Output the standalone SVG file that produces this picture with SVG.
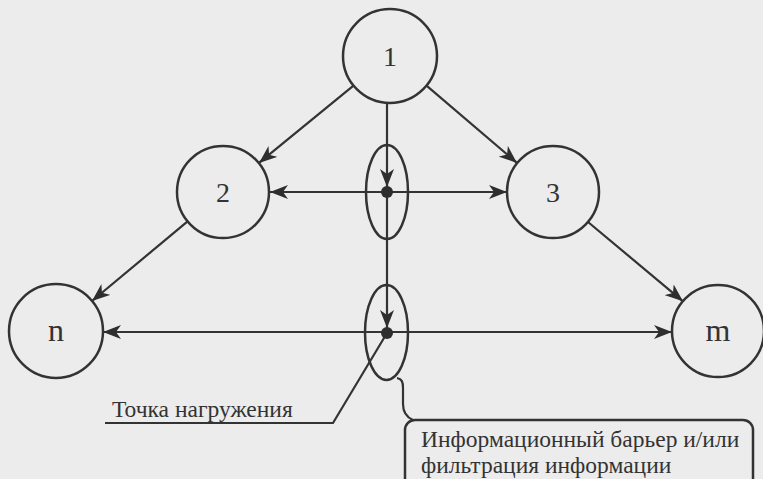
<svg xmlns="http://www.w3.org/2000/svg" width="763" height="479" viewBox="0 0 763 479">
  <defs>
    <marker id="arr" viewBox="0 0 18 14" refX="18" refY="7" markerWidth="18" markerHeight="14" markerUnits="userSpaceOnUse" orient="auto">
      <path d="M0,0 L18,7 L0,14 L5,7 z" fill="#2e2e2e"/>
    </marker>
  </defs>
  <style>
    .node circle { fill: #ececec; stroke: #333; stroke-width: 2.5; }
    .node text { font-family: "Liberation Serif", "DejaVu Serif", serif; fill: #333; text-anchor: middle; }
    .lbl { font-size: 28px; }
    .conn line, .conn path.c { stroke: #333; stroke-width: 2.2; fill: none; }
    .arrow { marker-end: url(#arr); }
    .ell { fill: none; stroke: #333; stroke-width: 2.5; }
    .note { font-family: "Liberation Serif", "DejaVu Serif", serif; font-size: 23.5px; fill: #333; }
  </style>
  <rect width="763" height="479" fill="#ececec"/>

  <g id="connectors" class="conn">
    <line class="arrow" x1="353.5" y1="85.7" x2="259" y2="162.9"/>
    <line class="arrow" x1="426.5" y1="85.7" x2="517" y2="162.9"/>
    <line class="arrow" x1="187.6" y1="221.4" x2="92" y2="301"/>
    <line class="arrow" x1="588" y1="222" x2="683" y2="301.3"/>
    <line class="arrow" x1="387" y1="102" x2="387" y2="187"/>
    <line class="arrow" x1="387" y1="192" x2="387" y2="328"/>
    <line class="arrow" x1="387" y1="192" x2="270" y2="192"/>
    <line class="arrow" x1="387" y1="192" x2="507" y2="192"/>
    <line class="arrow" x1="387" y1="332" x2="103" y2="332"/>
    <line class="arrow" x1="387" y1="332" x2="672" y2="332"/>
    <path class="c" d="M387,333 L333,423 L105,423"/>
    <path class="c" d="M397,378 C402,379 403,382 403,388 L403,404 C403,412 406,417 413,420"/>
  </g>

  <g id="barrier1">
    <ellipse class="ell" cx="387" cy="192" rx="21" ry="47"/>
    <circle cx="387" cy="192" r="6" fill="#2e2e2e"/>
  </g>
  <g id="barrier2">
    <ellipse class="ell" cx="386.5" cy="332.5" rx="21.5" ry="47.5"/>
    <circle cx="387" cy="333" r="6" fill="#2e2e2e"/>
  </g>

  <g id="node1" class="node">
    <circle cx="390" cy="56" r="47"/>
    <text class="lbl" x="390" y="66">1</text>
  </g>
  <g id="node2" class="node">
    <circle cx="223" cy="192" r="46"/>
    <text class="lbl" x="223" y="202">2</text>
  </g>
  <g id="node3" class="node">
    <circle cx="553" cy="192" r="46"/>
    <text class="lbl" x="553" y="202">3</text>
  </g>
  <g id="nodeN" class="node">
    <circle cx="56" cy="331" r="47"/>
    <text class="lbl" x="56" y="341" style="font-size:32px">n</text>
  </g>
  <g id="nodeM" class="node">
    <circle cx="718" cy="331" r="46"/>
    <text class="lbl" x="718" y="341" style="font-size:32px">m</text>
  </g>

  <g id="loadLabel">
    <text class="note" x="112" y="417">Точка нагружения</text>
  </g>

  <g id="barrierNote">
    <rect x="405" y="420" width="348" height="80" rx="10" fill="none" stroke="#333" stroke-width="2.5"/>
    <text class="note" x="421" y="447">Информационный барьер и/или</text>
    <text class="note" x="421" y="473">фильтрация информации</text>
  </g>
</svg>
